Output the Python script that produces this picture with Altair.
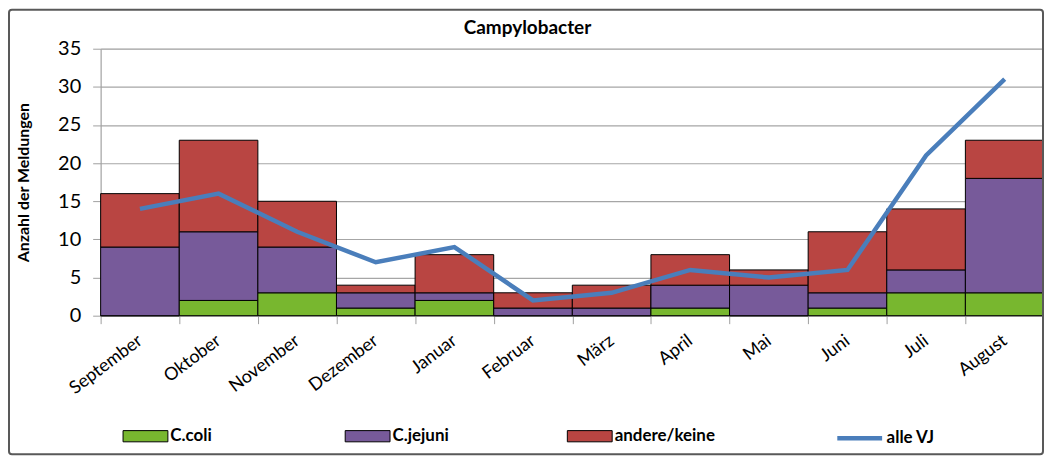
import altair as alt
import pandas as pd

months = ["September", "Oktober", "November", "Dezember", "Januar", "Februar",
          "März", "April", "Mai", "Juni", "Juli", "August"]
c_coli = [0, 2, 3, 1, 2, 0, 0, 1, 0, 1, 3, 3]
c_jejuni = [9, 9, 6, 2, 1, 1, 1, 3, 4, 2, 3, 15]
andere = [7, 12, 6, 1, 5, 2, 3, 4, 2, 8, 8, 5]
alle_vj = [14, 16, 11, 7, 9, 2, 3, 6, 5, 6, 21, 31]
y_ticks = [0, 5, 10, 15, 20, 25, 30, 35]

series = ["C.coli", "C.jejuni", "andere/keine"]
series_colors = ["#78B72F", "#775A9A", "#B94542"]
line_color = "#4A7EBB"
FONT = "Lato"

rows = []
for i, m in enumerate(months):
    for k, (name, vals) in enumerate(zip(series, [c_coli, c_jejuni, andere])):
        rows.append({"Monat": m, "Serie": name, "Wert": vals[i], "ord": k})
bars_df = pd.DataFrame(rows)
line_df = pd.DataFrame({"Monat": months, "Wert": alle_vj, "Serie": ["alle VJ"] * len(months)})

x_axis = alt.Axis(labelAngle=-37, labelAlign="right", labelBaseline="middle",
                  labelFontSize=18, labelFont=FONT, labelColor="black",
                  labelPadding=15, tickBand="extent", tickSize=8, labelOverlap=False,
                  tickColor="#A0A0A0", domainColor="#A0A0A0", grid=False)
x_scale = alt.Scale(paddingInner=0, paddingOuter=0)

y_axis = alt.Axis(values=y_ticks, title="Anzahl der Meldungen", labelOverlap=False,
                  titleFont=FONT, titleFontSize=16, titleFontWeight="bold",
                  titleColor="black", titlePadding=26,
                  labelFont=FONT, labelFontSize=20, labelColor="black",
                  labelPadding=12, tickSize=8, tickColor="#A0A0A0",
                  domainColor="#A0A0A0", gridColor="#A6A6A6", gridWidth=1.2)
y_scale = alt.Scale(domain=[0, 35], nice=False)

bars = alt.Chart(bars_df).mark_bar(stroke="black", strokeWidth=1).encode(
    x=alt.X("Monat:N", sort=months, title=None, scale=x_scale, axis=x_axis),
    y=alt.Y("Wert:Q", stack="zero", scale=y_scale, axis=y_axis),
    fill=alt.Fill("Serie:N", scale=alt.Scale(domain=series, range=series_colors),
                  legend=alt.Legend(title=None, orient="none", legendX=22, legendY=366,
                                    direction="horizontal", columns=3, gridAlign="all",
                                    columnPadding=72,
                                    symbolType="M-1,-0.25H1V0.25H-1Z", symbolSize=2025,
                                    symbolStrokeColor="black", symbolStrokeWidth=1,
                                    labelFont=FONT, labelFontSize=17, labelFontWeight="bold",
                                    labelColor="black", labelOffset=2, padding=0)),
    order=alt.Order("ord:Q", sort="ascending"),
)

line = alt.Chart(line_df).mark_line(strokeWidth=4.5, color=line_color).encode(
    x=alt.X("Monat:N", sort=months, title=None, scale=x_scale, axis=x_axis),
    y=alt.Y("Wert:Q", scale=y_scale, axis=y_axis),
    stroke=alt.Stroke("Serie:N", scale=alt.Scale(domain=["alle VJ"], range=[line_color]),
                      legend=alt.Legend(title=None, orient="none", legendX=737, legendY=366,
                                        symbolType="stroke", symbolSize=2025,
                                        symbolStrokeWidth=4.5,
                                        labelFont=FONT, labelFontSize=17, labelFontWeight="bold",
                                        labelColor="black", labelOffset=2, padding=0)),
)

frame = alt.Chart(pd.DataFrame({"a": [0]})).mark_rect(
    fill=None, stroke="#595959", strokeWidth=2, cornerRadius=3
).encode(x=alt.value(-92), x2=alt.value(946), y=alt.value(-39), y2=alt.value(407))

chart = alt.layer(bars, line, frame).resolve_scale(fill="independent", stroke="independent").properties(
    width=947, height=268,
    autosize=alt.AutoSizeParams(type="none"),
    padding={"left": 93, "top": 40, "right": 0, "bottom": 143},
    title=alt.Title("Campylobacter", font=FONT, fontSize=19, fontWeight="bold",
                    color="black", dx=-45, offset=-29, frame="group"),
).configure_view(stroke=None).configure(background="white")

chart.save("out.html", embed_options={"renderer": "svg", "actions": False})
